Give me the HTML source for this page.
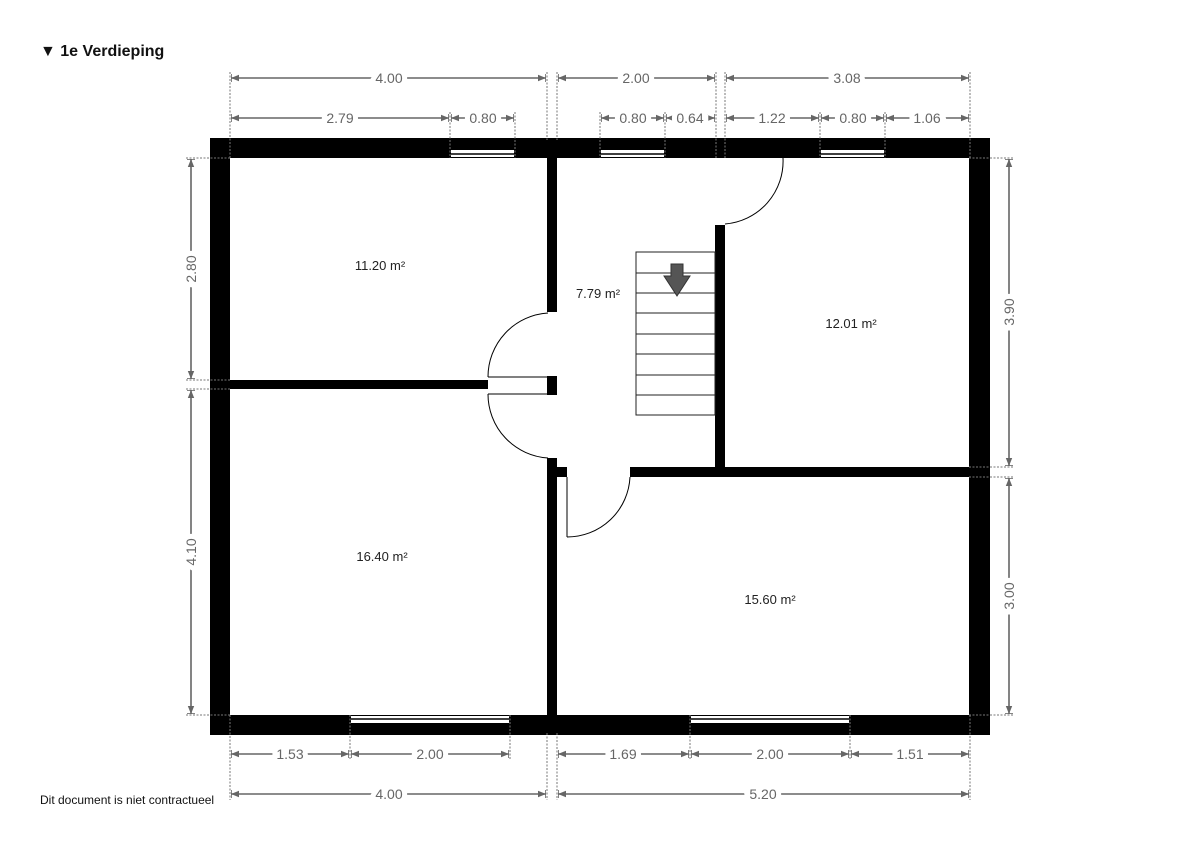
<!DOCTYPE html>
<html><head><meta charset="utf-8"><style>
html,body{margin:0;padding:0;background:#fff;}
svg{display:block;font-family:"Liberation Sans",sans-serif;}
.d{stroke:#666;stroke-width:1.6;fill:none}
.e{stroke:#777;stroke-width:1;stroke-dasharray:2 1.5;fill:none}
.t{fill:#666;font-size:14px;text-anchor:middle;stroke:#fff;stroke-width:10px;paint-order:stroke;}
.r{fill:#222;font-size:13px;text-anchor:middle}
</style></head><body>
<svg width="1200" height="848" viewBox="0 0 1200 848" xmlns="http://www.w3.org/2000/svg">
<defs>
<marker id="a" viewBox="0 0 10 10" refX="10" refY="5" markerWidth="5" markerHeight="5" orient="auto-start-reverse"><path d="M0,1 L10,5 L0,9 z" fill="#666"/><rect x="9" y="0" width="1.5" height="10" fill="#666"/></marker>
</defs>
<text x="40" y="56" font-size="16" font-weight="bold" fill="#111">▼ 1e Verdieping</text>
<text x="40" y="804" font-size="12" fill="#111">Dit document is niet contractueel</text>

<!-- walls -->
<g fill="#000">
<rect x="210" y="138" width="780" height="20"/>
<rect x="210" y="138" width="20" height="597"/>
<rect x="969" y="138" width="21" height="597"/>
<rect x="210" y="715" width="780" height="20"/>
<rect x="547" y="158" width="10" height="154"/>
<rect x="547" y="376" width="10" height="19"/>
<rect x="547" y="458" width="10" height="257"/>
<rect x="230" y="380" width="258" height="9"/>
<rect x="715" y="225" width="10" height="244"/>
<rect x="630" y="467" width="340" height="10"/>
<rect x="557" y="467" width="10" height="10"/>
</g>
<!-- windows -->
<g>
<g fill="#fff"><rect x="451" y="150" width="63" height="8"/><rect x="601" y="150" width="63" height="8"/><rect x="821" y="150" width="63" height="8"/>
<rect x="351" y="715" width="158" height="8"/><rect x="691" y="715" width="158" height="8"/></g>
<g stroke="#000" stroke-width="1.5"><line x1="451" y1="154" x2="514" y2="154"/><line x1="601" y1="154" x2="664" y2="154"/><line x1="821" y1="154" x2="884" y2="154"/>
<line x1="351" y1="719" x2="509" y2="719"/><line x1="691" y1="719" x2="849" y2="719"/></g>
<g stroke="#000" stroke-width="1"><line x1="451" y1="157.5" x2="514" y2="157.5"/><line x1="601" y1="157.5" x2="664" y2="157.5"/><line x1="821" y1="157.5" x2="884" y2="157.5"/>
<line x1="351" y1="715.5" x2="509" y2="715.5"/><line x1="691" y1="715.5" x2="849" y2="715.5"/></g>
</g>
<!-- doors -->
<g fill="none" stroke="#000" stroke-width="1">
<path d="M548,313 A64,64 0 0 0 488,377"/><line x1="488" y1="377" x2="547" y2="377"/>
<path d="M488,394 A64,64 0 0 0 548,458"/><line x1="488" y1="394" x2="547" y2="394"/>
<path d="M783,158 A63,63 0 0 1 725,224"/>
<path d="M630,477 A63,63 0 0 1 567,537"/><line x1="567" y1="477" x2="567" y2="537"/>
</g>
<!-- stairs -->
<g fill="none" stroke="#222" stroke-width="1">
<rect x="636" y="252" width="79" height="163"/>
<line x1="636" y1="273" x2="715" y2="273"/><line x1="636" y1="293" x2="715" y2="293"/><line x1="636" y1="313" x2="715" y2="313"/><line x1="636" y1="334" x2="715" y2="334"/><line x1="636" y1="354" x2="715" y2="354"/><line x1="636" y1="375" x2="715" y2="375"/><line x1="636" y1="395" x2="715" y2="395"/>
</g>
<path d="M671,264 H683 V276 H690 L677,296 L664,276 H671 Z" fill="#555" stroke="#333" stroke-width="1"/>
<!-- room labels -->
<text class="r" x="380" y="270">11.20 m²</text>
<text class="r" x="598" y="298">7.79 m²</text>
<text class="r" x="851" y="328">12.01 m²</text>
<text class="r" x="382" y="561">16.40 m²</text>
<text class="r" x="770" y="604">15.60 m²</text>

<!-- extension lines -->
<g class="e">
<line x1="230" y1="72" x2="230" y2="158"/><line x1="547" y1="72" x2="547" y2="140"/><line x1="557" y1="72" x2="557" y2="140"/><line x1="547" y1="733" x2="547" y2="800"/><line x1="557" y1="733" x2="557" y2="800"/><line x1="716" y1="72" x2="716" y2="158"/><line x1="725" y1="72" x2="725" y2="158"/><line x1="970" y1="72" x2="970" y2="158"/>
<line x1="450" y1="112" x2="450" y2="158"/><line x1="515" y1="112" x2="515" y2="158"/><line x1="600" y1="112" x2="600" y2="158"/><line x1="665" y1="112" x2="665" y2="158"/><line x1="820" y1="112" x2="820" y2="158"/><line x1="885" y1="112" x2="885" y2="158"/>
<line x1="230" y1="715" x2="230" y2="800"/><line x1="970" y1="715" x2="970" y2="800"/><line x1="350" y1="715" x2="350" y2="760"/><line x1="510" y1="715" x2="510" y2="760"/><line x1="690" y1="715" x2="690" y2="760"/><line x1="850" y1="715" x2="850" y2="760"/>
<line x1="186" y1="158" x2="230" y2="158"/><line x1="186" y1="380" x2="230" y2="380"/><line x1="186" y1="389" x2="230" y2="389"/><line x1="186" y1="715" x2="230" y2="715"/>
<line x1="969" y1="158" x2="1014" y2="158"/><line x1="969" y1="467" x2="1014" y2="467"/><line x1="969" y1="477" x2="1014" y2="477"/><line x1="969" y1="715" x2="1014" y2="715"/>
</g>
<!-- dimension lines -->
<g class="d" marker-start="url(#a)" marker-end="url(#a)">
<line x1="231" y1="78" x2="546" y2="78"/><line x1="558" y1="78" x2="715" y2="78"/><line x1="726" y1="78" x2="969" y2="78"/>
<line x1="231" y1="118" x2="449" y2="118"/><line x1="451" y1="118" x2="514" y2="118"/><line x1="601" y1="118" x2="664" y2="118"/><line x1="666" y1="118" x2="715" y2="118"/><line x1="726" y1="118" x2="819" y2="118"/><line x1="821" y1="118" x2="884" y2="118"/><line x1="886" y1="118" x2="969" y2="118"/>
<line x1="231" y1="754" x2="349" y2="754"/><line x1="351" y1="754" x2="509" y2="754"/><line x1="558" y1="754" x2="689" y2="754"/><line x1="691" y1="754" x2="849" y2="754"/><line x1="851" y1="754" x2="969" y2="754"/>
<line x1="231" y1="794" x2="546" y2="794"/><line x1="558" y1="794" x2="969" y2="794"/>
<line x1="191" y1="159" x2="191" y2="379"/><line x1="191" y1="390" x2="191" y2="714"/>
<line x1="1009" y1="159" x2="1009" y2="466"/><line x1="1009" y1="478" x2="1009" y2="714"/>
</g>
<g class="t">
<text x="389" y="83">4.00</text><text x="636" y="83">2.00</text><text x="847" y="83">3.08</text>
<text x="340" y="123">2.79</text><text x="483" y="123">0.80</text><text x="633" y="123">0.80</text><text x="690" y="123">0.64</text><text x="772" y="123">1.22</text><text x="853" y="123">0.80</text><text x="927" y="123">1.06</text>
<text x="290" y="759">1.53</text><text x="430" y="759">2.00</text><text x="623" y="759">1.69</text><text x="770" y="759">2.00</text><text x="910" y="759">1.51</text>
<text x="389" y="799">4.00</text><text x="763" y="799">5.20</text>
<text transform="translate(196,269) rotate(-90)">2.80</text>
<text transform="translate(196,552) rotate(-90)">4.10</text>
<text transform="translate(1014,312) rotate(-90)">3.90</text>
<text transform="translate(1014,596) rotate(-90)">3.00</text>
</g>
</svg>
</body></html>
